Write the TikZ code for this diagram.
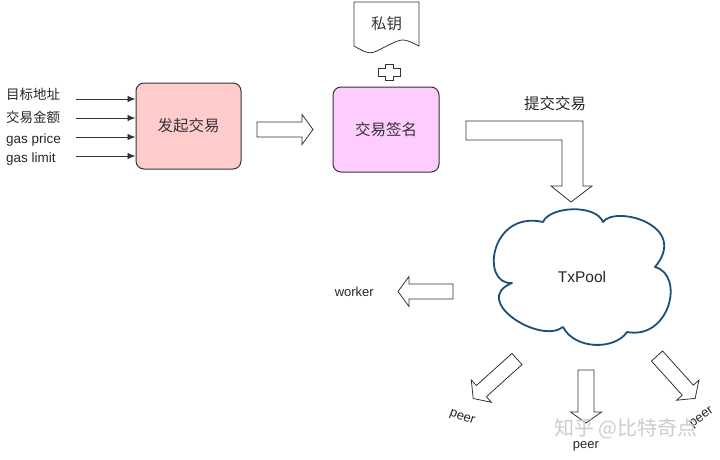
\documentclass[tikz,border=0pt]{standalone}
\usepackage{fontspec}
\setmainfont{Liberation Sans}
\newfontfamily\cjk{Noto Sans CJK SC}
\usetikzlibrary{arrows.meta}

\definecolor{fqfill}{RGB}{255,204,204}
\definecolor{qmfill}{RGB}{255,204,255}
\definecolor{cloudblue}{RGB}{28,78,122}
\definecolor{linegray}{RGB}{51,51,51}

\tikzset{
  txbox/.style={draw=linegray, line width=1pt, rounded corners=8pt,
    text=linegray, font=\cjk\fontsize{15.5}{18}\selectfont},
  inlabel/.style={anchor=base west, inner sep=0pt, text=black!85,
    font=\fontsize{13.5}{16}\selectfont},
  inarrow/.style={draw=linegray, line width=0.9pt, -{Latex[length=8pt,width=6.5pt]}},
  blockarrow/.style={draw=linegray, line width=0.8pt, fill=white, line join=miter},
  smalltext/.style={text=black!85, inner sep=0pt, font=\fontsize{13}{15}\selectfont}
}

% tail point, angle, length, shaft half width, head half width
\newcommand{\blockarr}[5]{%
  \draw[blockarrow, shift={#1}, rotate=#2]
    (0,-#4) -- ({#3-11},-#4) -- ({#3-11},-#5) -- (#3,0) --
    ({#3-11},#5) -- ({#3-11},#4) -- (0,#4) -- cycle;}

\begin{document}
\begin{tikzpicture}[x=1pt, y=-1pt]
\useasboundingbox (0,0) rectangle (720,459);

\node[inlabel] (mb) at (6,99) {\cjk 目标地址};
\node[inlabel] (je) at (6,122) {\cjk 交易金额};
\node[inlabel] (gp) at (6,143) {gas price};
\node[inlabel] (gl) at (6,162.5) {gas limit};

\node[txbox, fill=fqfill, minimum width=105, minimum height=86] (fq) at (188.5,126) {发起交易};
\node[txbox, fill=qmfill, minimum width=106, minimum height=85] (qm) at (386,129.5) {交易签名};

\coordinate (in1) at (76,99);
\coordinate (in2) at (76,118);
\coordinate (in3) at (76,137);
\coordinate (in4) at (76,156);
\foreach \i in {1,...,4}
  \draw[inarrow] (in\i) -- (in\i -| fq.west);

% private key sheet and plus
\draw[blockarrow] (354,2) -- (419,2) -- (419,46)
  .. controls (403,38) .. (386.5,46) .. controls (370,55) .. (354,46) -- cycle;
\node[smalltext, text=linegray, font=\cjk\fontsize{15.5}{18}\selectfont] (sy) at (386.5,24) {私钥};
\draw[blockarrow] (385,64.5) -- (393,64.5) -- (393,68.5) -- (400,68.5) -- (400,76.5)
  -- (393,76.5) -- (393,80.5) -- (385,80.5) -- (385,76.5) -- (378,76.5)
  -- (378,68.5) -- (385,68.5) -- cycle;

\blockarr{(257,129.5)}{0}{56}{7.5}{15}

% submit
\node[smalltext, font=\cjk\fontsize{15.5}{18}\selectfont] (tj) at (555,104) {提交交易};
\draw[blockarrow] (466,121) -- (583,121) -- (583,186) -- (592,186) -- (571,202)
  -- (551,186) -- (562,186) -- (562,140) -- (466,140) -- cycle;

% pool
\draw[cloudblue, line width=1.8pt, line join=round]
  (512,283) .. controls (480,285) and (490,210) .. (543,222)
  .. controls (550,206) and (596,204) .. (603,222)
  .. controls (615,205) and (690,225) .. (655,267)
  .. controls (685,275) and (670,340) .. (627,332)
  .. controls (615,350) and (575,350) .. (563,327)
  .. controls (540,345) and (470,300) .. (512,283) -- cycle;
\node[smalltext, font=\fontsize{15.5}{18}\selectfont] (pool) at (582,277) {TxPool};

\blockarr{(453,291.5)}{180}{55}{7.5}{15}
\node[smalltext, anchor=east] (wk) at (374,292) {worker};

\blockarr{(586,370)}{-90}{53}{8}{15.5}
\blockarr{(517,359)}{-138}{59}{7.5}{15}
\blockarr{(657,356)}{-48}{57}{7.5}{15}

\node[smalltext, rotate=-20] (p1) at (462,418) {peer};
\node[smalltext] (p2) at (586,446) {peer};
\node[smalltext, rotate=36] (p3) at (702,418) {peer};

\node[text=gray!40, inner sep=0pt, font=\cjk\fontsize{20}{24}\selectfont] (wm) at (626,429) {知乎 @比特奇点};

\end{tikzpicture}
\end{document}
